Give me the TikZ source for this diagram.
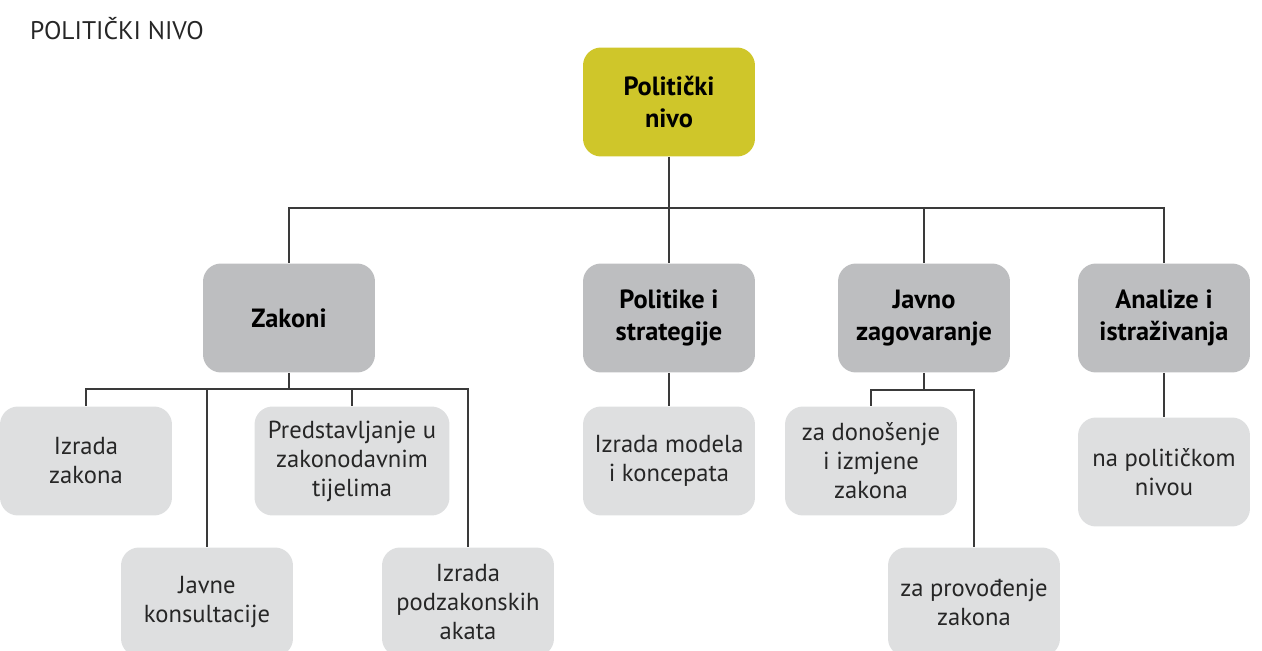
\documentclass[tikz,border=0pt]{standalone}
\usepackage{fontspec}
\setmainfont{PT Sans}
\usetikzlibrary{positioning}

\definecolor{nivoyellow}{HTML}{CFC62A}
\definecolor{areagray}{HTML}{BDBEC0}
\definecolor{itemgray}{HTML}{DEDFE0}
\definecolor{linegray}{HTML}{3A3A3A}

\tikzset{
  box/.style={rounded corners=0.36cm,minimum width=3.44cm,minimum height=2.18cm,align=center,inner sep=2pt},
  rootbox/.style={box,fill=nivoyellow,font=\fontsize{15}{18.5}\selectfont\bfseries},
  areabox/.style={box,fill=areagray,font=\fontsize{15}{18.5}\selectfont\bfseries},
  itembox/.style={box,fill=itemgray,text=black!85,font=\fontsize{14}{16.5}\selectfont},
  link/.style={draw=linegray,line width=0.7pt}
}

\begin{document}
\begin{tikzpicture}[x=0.02cm,y=-0.02cm]
\useasboundingbox (0,0) rectangle (1262,650);

\node[anchor=west,font=\fontsize{14.5}{16}\selectfont,text=black!85](title)at(24, 29){POLITIČKI NIVO};

\node[rootbox](root)at(669, 102){Politički\\nivo};

\node[areabox](zak)at(289, 318){Zakoni};
\node[areabox](pol)at(669, 318){Politike i\\strategije};
\node[areabox](jav)at(924, 318){Javno\\zagovaranje};
\node[areabox](anl)at(1164, 318){Analize i\\istraživanja};

\node[itembox](izr)at(86, 461){Izrada\\zakona};
\node[itembox,minimum width=3.9cm](pred)at(352, 461){Predstavljanje u\\zakonodavnim\\tijelima};
\node[itembox](jk)at(207, 602){Javne\\konsultacije};
\node[itembox](ipa)at(468, 602){Izrada\\podzakonskih\\akata};
\node[itembox](imk)at(669, 461){Izrada modela\\i koncepata};
\node[itembox](zdon)at(871, 461){za donošenje\\i izmjene\\zakona};
\node[itembox](zpro)at(974, 602){za provođenje\\zakona};
\node[itembox](nap)at(1164, 472){na političkom\\nivou};

\coordinate(b1)at(669, 208);
\coordinate(b2)at(289, 389);
\coordinate(b3)at(924, 390);

% top level
\draw[link](root) -- (b1);
\foreach \n in {zak,pol,jav,anl}
  \draw[link](b1) -| (\n);

% zakoni
\draw[link](zak) -- (b2);
\foreach \n in {izr,jk,pred,ipa}
  \draw[link](b2) -| (\n);

\draw[link](pol) -- (imk);

% javno zagovaranje
\draw[link](jav) -- (b3);
\foreach \n in {zdon,zpro}
  \draw[link](b3) -| (\n);

\draw[link](anl) -- (nap);
\end{tikzpicture}
\end{document}
